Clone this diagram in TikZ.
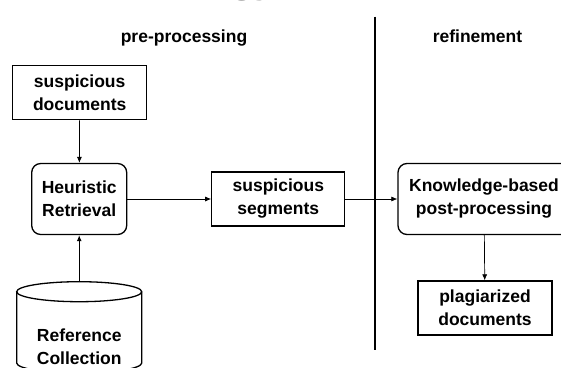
\documentclass[tikz,border=0pt]{standalone}
\usepackage{fontspec}
\setmainfont{Liberation Sans}
\usetikzlibrary{positioning,arrows.meta}

\begin{document}
\begin{tikzpicture}[x=1pt,y=-1pt,
    lbl/.style={font=\fontsize{17.5}{23}\selectfont\bfseries,align=center,inner sep=0pt},
    docbox/.style={lbl,draw,line width=1.3pt,minimum width=#1,minimum height=54pt},
    procbox/.style={lbl,draw,line width=1.3pt,rounded corners=9pt,minimum width=#1,minimum height=71pt},
    arr/.style={-{Latex[length=6pt,width=5pt]},line width=0.7pt}]
  \useasboundingbox (0,0) rectangle (561,367);
  % cut-off slide title
  \node[font=\fontsize{40}{40}\selectfont\bfseries,text=black!60,anchor=base west,inner sep=0pt](ttl) at (230,-7.5){gy};
  % column titles
  \node[lbl,anchor=base](pre) at (184,42.5){pre-processing};
  \node[lbl,anchor=base](refi) at (477.5,42){refinement};
  \coordinate (divtop) at (375,16.7);
  \coordinate (divbot) at (375,350);
  \draw[line width=1.1pt] (divtop) -- (divbot);
  % boxes
  \node[docbox=134pt](docs) at (79.7,92.7){suspicious\\documents};
  \node[procbox=95pt](heur) at (79.2,199){Heuristic\\Retrieval};
  \node[docbox=133pt](seg) at (278.3,199){suspicious\\segments};
  \node[procbox=172pt](know) at (484,199){Knowledge-based\\post-processing};
  \node[docbox=134pt](plag) at (485,308){plagiarized\\documents};
  % database
  \draw[line width=1.3pt] (16.7,291.7) -- (16.7,363)
    arc[start angle=180,end angle=360,x radius=62.5pt,y radius=10pt] -- (141.7,291.7);
  \draw[line width=1.3pt] (79.2,291.7) ellipse[x radius=62.5pt,y radius=10pt];
  \coordinate (refcoll) at (79.2,281.7);
  \node[lbl](reftxt) at (79.2,346.5){Reference\\Collection};
  % flow
  \draw[arr] (docs) -- (heur);
  \draw[arr,line width=1.1pt] (refcoll) -- (heur);
  \draw[arr] (heur) -- (seg);
  \draw[arr] (seg) -- (know);
  \draw[arr] (know) -- (plag);
\end{tikzpicture}
\end{document}
